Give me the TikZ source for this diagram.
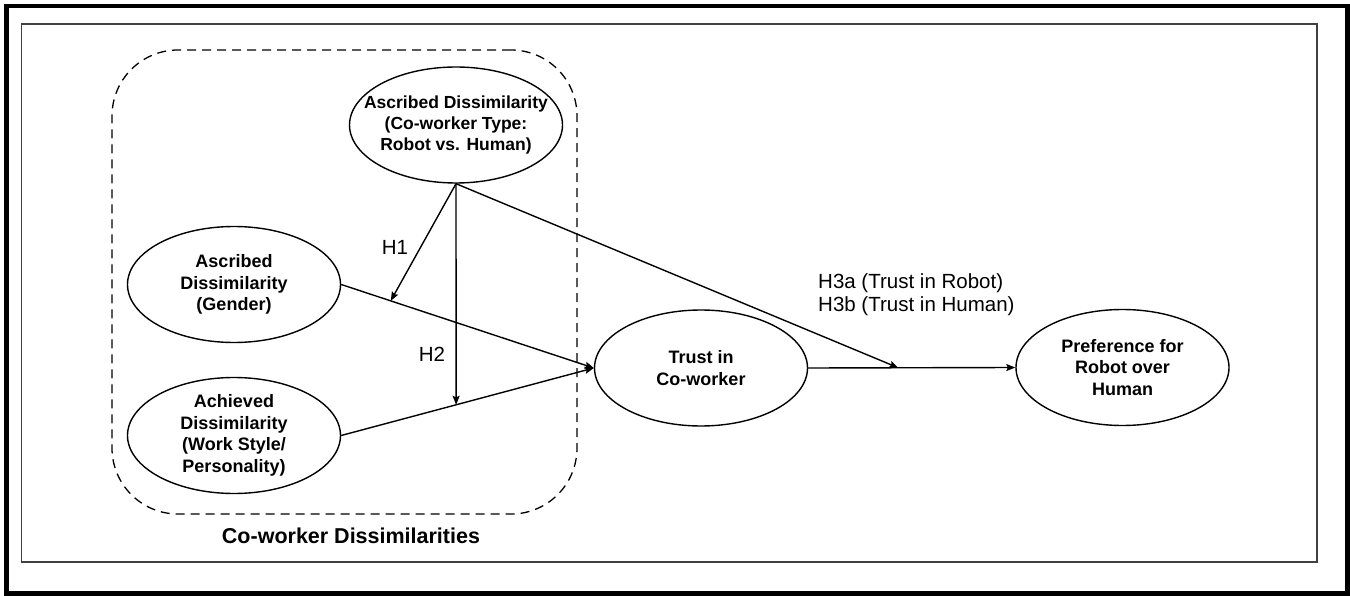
\documentclass[tikz,border=0pt]{standalone}
\usepackage{fontspec}
\setmainfont{Liberation Sans}
\usetikzlibrary{shapes.geometric, arrows.meta}

\begin{document}
\begin{tikzpicture}[x=1pt, y=-1pt,
% Estilo de las elipses
elipse/.style={ellipse, draw, line width=1.4pt, minimum width=213pt, minimum height=116pt, inner xsep=-20pt, inner ysep=0pt, align=center, font=\fontsize{18}{21.5}\selectfont\bfseries},
% Estilo de las flechas
flecha/.style={-{Stealth[length=9pt, width=7pt, inset=1.5pt]}, line width=1.4pt},
% Estilo de las etiquetas
etiq/.style={font=\fontsize{20.5}{23}\selectfont, inner sep=0pt},
]
\useasboundingbox (0,0) rectangle (1350,596);
% Marcos
\draw[line width=4.5pt] (6.5,6) rectangle (1347.5,593.5);
\draw[line width=1.2pt, black!75] (21.5,24) rectangle (1317,562);
\node (caja) at (344.5,282) [draw, dash pattern=on 9pt off 6pt, line width=1.3pt, rounded corners=66pt, minimum width=465pt, minimum height=464pt] {};

% Nodos
\node (tipo) at (456,125) [elipse, font=\fontsize{17.5}{21}\selectfont\bfseries] {Ascribed Dissimilarity\\(Co-worker Type:\\Robot vs. Human)};
\node (genero) at (234,284.5) [elipse] {Ascribed\\Dissimilarity\\(Gender)};
\node (logrado) at (234,435.5) [elipse] {Achieved\\Dissimilarity\\(Work Style/\\Personality)};
\node (confianza) at (701,368) [elipse] {Trust in\\Co-worker};
\node (pref) at (1122.5,367.5) [elipse] {Preference for\\Robot over\\Human};

% Etiquetas
\node (h1) at (395,247) [etiq] {H1};
\node (h2) at (432,354) [etiq] {H2};
\node (h3) at (818,294.5) [etiq, anchor=west, align=left] {H3a (Trust in Robot)\\H3b (Trust in Human)};
\node (grupo) at (351,536) [etiq, font=\fontsize{21.5}{24}\selectfont\bfseries] {Co-worker Dissimilarities};

% Flechas
\draw[flecha] (genero.east) -- coordinate[pos=0.196] (m1) (confianza.west);
\draw[flecha] (logrado.east) -- coordinate[pos=0.455] (m2) (confianza.west);
\draw[flecha] (confianza.east) -- coordinate[pos=0.435] (m3) (pref.west);
\draw[flecha] (tipo.south) -- (m1);
\draw[flecha] (tipo.south) -- (m2);
\draw[flecha] (tipo.south) -- (m3);
\end{tikzpicture}
\end{document}
